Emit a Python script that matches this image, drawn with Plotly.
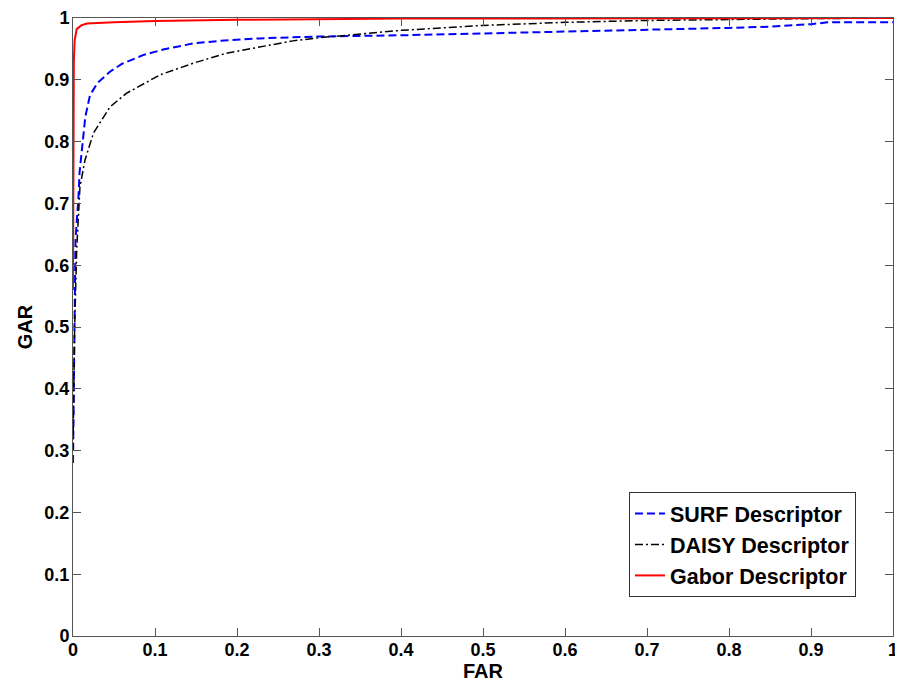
import plotly.graph_objects as go

surf_far = [0, 0.001, 0.002, 0.003, 0.005, 0.0065, 0.008, 0.0118, 0.015, 0.0207, 0.03, 0.045, 0.06, 0.0855, 0.11, 0.147, 0.18, 0.228, 0.3, 0.4, 0.5, 0.6, 0.7, 0.8, 0.85, 0.9, 0.92, 1.0]
surf_gar = [0.28, 0.45, 0.58, 0.64, 0.68, 0.706, 0.75, 0.803, 0.84, 0.875, 0.895, 0.913, 0.926, 0.940, 0.949, 0.959, 0.963, 0.967, 0.970, 0.972, 0.975, 0.977, 0.980, 0.984, 0.986, 0.990, 0.993, 0.993]

daisy_far = [0, 0.002, 0.0045, 0.0085, 0.0146, 0.025, 0.045, 0.065, 0.106, 0.147, 0.187, 0.228, 0.268, 0.3, 0.4, 0.5, 0.6, 0.7, 0.8, 0.9, 1.0]
daisy_gar = [0.3, 0.5, 0.625, 0.727, 0.77, 0.814, 0.856, 0.878, 0.908, 0.927, 0.943, 0.953, 0.963, 0.968, 0.980, 0.988, 0.993, 0.996, 0.998, 0.999, 1.0]

gabor_far = [0, 0.0005, 0.001, 0.002, 0.0045, 0.01, 0.017, 0.05, 0.1, 0.2, 0.3, 0.4, 1.0]
gabor_gar = [0.56, 0.80, 0.93, 0.964, 0.982, 0.988, 0.991, 0.993, 0.995, 0.997, 0.998, 0.999, 1.0]

tick_vals = [0, 0.1, 0.2, 0.3, 0.4, 0.5, 0.6, 0.7, 0.8, 0.9, 1]
tick_text = ["0", "0.1", "0.2", "0.3", "0.4", "0.5", "0.6", "0.7", "0.8", "0.9", "1"]

fam = "Liberation Sans, Arial"

fig = go.Figure()
fig.add_trace(go.Scatter(x=surf_far, y=surf_gar, mode="lines", name="SURF Descriptor",
                         line=dict(color="#0000ff", width=2, dash="8px,4px")))
fig.add_trace(go.Scatter(x=daisy_far, y=daisy_gar, mode="lines", name="DAISY Descriptor",
                         line=dict(color="#000000", width=1.5, dash="8px,3px,2px,3px")))
fig.add_trace(go.Scatter(x=gabor_far, y=gabor_gar, mode="lines", name="Gabor Descriptor",
                         line=dict(color="#ff0000", width=2)))

axis_common = dict(range=[0, 1], tickvals=tick_vals, ticktext=tick_text, automargin=False,
                   showgrid=False, zeroline=False, showline=True, linecolor="#555555", linewidth=1,
                   mirror="ticks", ticks="inside", ticklen=8, tickcolor="#555555",
                   tickfont=dict(family=fam, size=18, color="#000000", weight="bold"))

# page body has an 8px default margin; figure size compensates so the 903x690 view matches
fig.update_layout(
    width=895, height=682,
    margin=dict(l=65, r=10, t=10, b=54),
    paper_bgcolor="white", plot_bgcolor="white",
    font=dict(family=fam, size=18, color="#000000"),
    xaxis=dict(**axis_common, ticklabelstandoff=-3,
               title=dict(text="FAR", standoff=2, font=dict(family=fam, size=20, weight="bold"))),
    yaxis=dict(**axis_common, ticklabelstandoff=-1,
               title=dict(text="GAR", standoff=6, font=dict(family=fam, size=20, weight="bold"))),
    legend=dict(x=0.678, y=0.148, xanchor="left", yanchor="middle",
                bgcolor="white", bordercolor="#333333", borderwidth=1,
                font=dict(family=fam, size=21.5, color="#000000", weight="bold"),
                itemwidth=30, tracegroupgap=0),
)

fig.write_html("out.html")
